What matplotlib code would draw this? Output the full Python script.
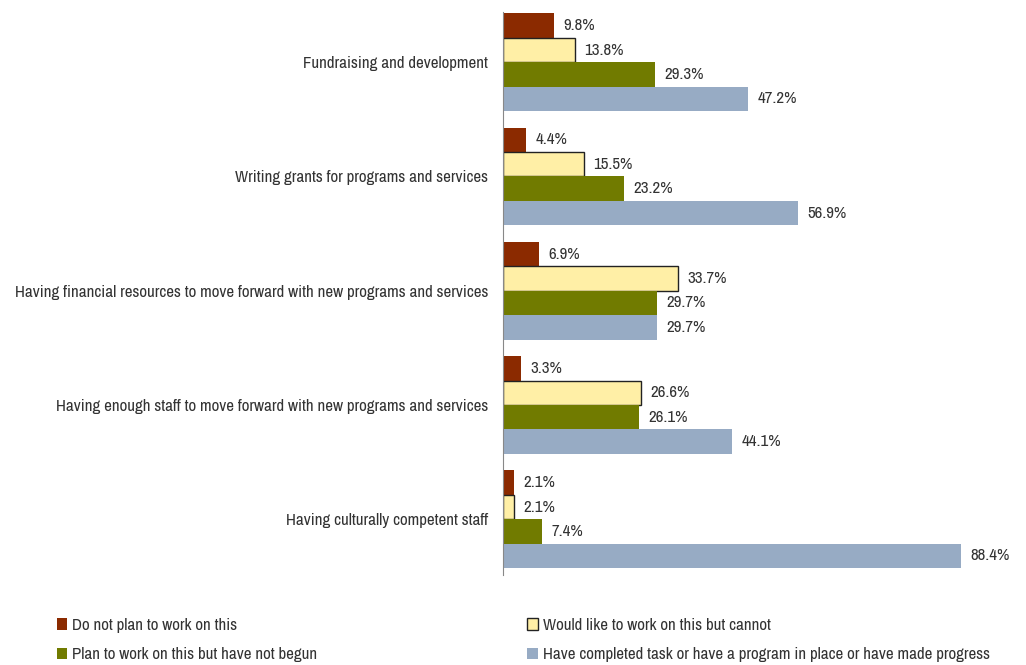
from matplotlib import pyplot as plt
from matplotlib import font_manager
import numpy as np

# pick a narrow sans if one is around
narrow = [f.name for f in font_manager.fontManager.ttflist if 'Narrow' in f.name]
plt.rcParams['font.family'] = [narrow[0]] if narrow else ['Liberation Sans']

categories = [
    "Fundraising and development",
    "Writing grants for programs and services",
    "Having financial resources to move forward with new programs and services",
    "Having enough staff to move forward with new programs and services",
    "Having culturally competent staff",
]
series_names = [
    "Do not plan to work on this",
    "Would like to work on this but cannot",
    "Plan to work on this but have not begun",
    "Have completed task or have a program in place or have made progress",
]
not_planned = [9.8, 4.4, 6.9, 3.3, 2.1]
would_like = [13.8, 15.5, 33.7, 26.6, 2.1]
plan_not_begun = [29.3, 23.2, 29.7, 26.1, 7.4]
completed = [47.2, 56.9, 29.7, 44.1, 88.4]

series = [not_planned, would_like, plan_not_begun, completed]
colors = ['#8B2A00', '#FFEFA6', '#717B00', '#97ABC4']
edges = ['none', '#222222', 'none', 'none']
text_color = '#333333'
fs = 12.2

fig = plt.figure(figsize=(10.26, 6.65), dpi=100)
ax = fig.add_axes([0.4907, 0.135, 0.505, 0.847])

y = np.arange(len(categories))
h = 0.214
handles = []
for i, (vals, name) in enumerate(zip(series, series_names)):
    pos = y - 1.5 * h + i * h
    bars = ax.barh(pos, vals, height=h, color=colors[i], edgecolor=edges[i],
                   linewidth=1.0, label=name)
    handles.append(bars)
    for b, v in zip(bars, vals):
        ax.text(v + 1.8, b.get_y() + h / 2, f"{v}%", va='center', ha='left',
                fontsize=fs, color=text_color)

ax.set_xlim(0, 100)
ax.set_ylim(4.49, -0.44)
ax.set_yticks(y)
ax.set_yticklabels(categories, fontsize=fs, color=text_color)
ax.tick_params(axis='y', length=0, pad=11)
ax.set_xticks([])
for s in ['top', 'right', 'bottom']:
    ax.spines[s].set_visible(False)
ax.spines['left'].set_color('#888888')

# legend reads row by row: two entries per line
order = [0, 2, 1, 3]
fig.legend([handles[k] for k in order], [series_names[k] for k in order], ncol=2,
           loc='upper left', bbox_to_anchor=(57 / 1026, 1 - 618 / 665),
           borderaxespad=0, borderpad=0, frameon=False, fontsize=fs,
           handlelength=0.6, handleheight=0.65, handletextpad=0.3,
           columnspacing=12.4, labelspacing=0.85, labelcolor=text_color)

fig.savefig('out.png', dpi=100)
